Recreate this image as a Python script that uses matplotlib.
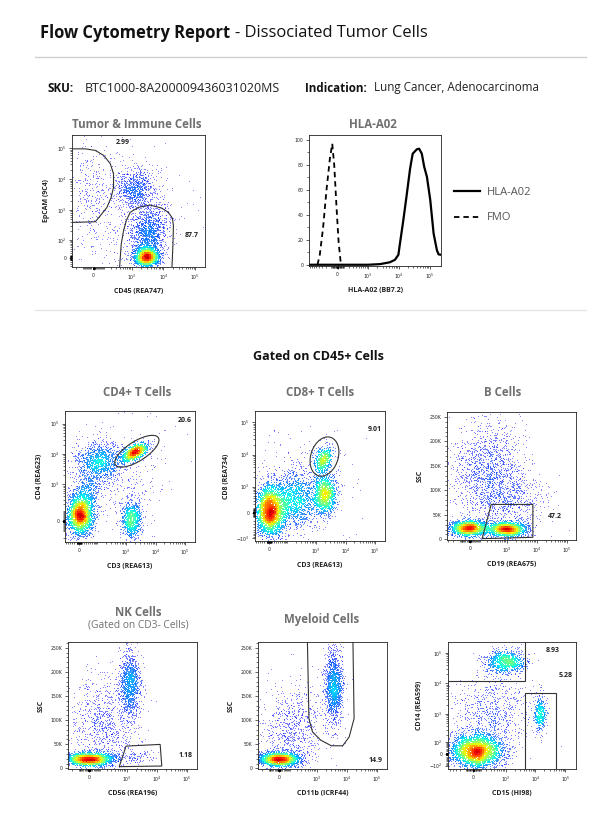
import numpy as np
import matplotlib
matplotlib.use('Agg')
import matplotlib.pyplot as plt
from matplotlib.patches import Polygon
from matplotlib.lines import Line2D
from matplotlib.colors import ListedColormap

W, H = 599, 817
FONT = 'Open Sans'

# ---------------- data ----------------
sku = 'BTC1000-8A200009436031020MS'
indication = 'Lung Cancer, Adenocarcinoma'

# histogram (HLA-A02 vs FMO), % of max
hla_x = [-880, 0, 1000, 2500, 5200, 7600, 9800, 11000, 14200, 18200, 23400, 28400,
         38500, 46000, 56000, 67000, 82000, 105000, 135000, 173000, 196000, 234000]
hla_y = [0, 0, 0, 0.5, 2, 4, 8, 17, 36, 56, 77, 89, 92.5, 93, 89, 78.5, 70.5, 52, 25, 11.5, 8.3, 8]
fmo_x = [-451, -371, -276, -196, -129, -87, -54, -16, 16, 53]
fmo_y = [0, 8, 30, 60, 85, 97, 80, 45, 18, 0]

# event populations: (x centre, y centre, x sd, y sd [axis fraction], correlation, events)
tumor_pops = [(3000, 3, 0.045, 0.035, 0.0, 2200),
              (3500, 160, 0.07, 0.11, 0.2, 1300),
              (1270, 4800, 0.075, 0.085, 0.0, 800),
              (800, 500, 0.2, 0.25, 0.0, 600),
              (-20, 3000, 0.07, 0.2, 0.0, 250)]
cd4_pops = [(5, 57, 0.05, 0.08, 0.0, 2600),
            (1560, 10, 0.04, 0.075, 0.0, 900),
            (2020, 11300, 0.05, 0.035, 0.55, 1200),
            (109, 5700, 0.09, 0.075, 0.0, 1100),
            (40, 640, 0.05, 0.08, 0.0, 400),
            (500, 2000, 0.2, 0.2, 0.0, 400)]
cd8_pops = [(5, 40, 0.06, 0.1, 0.0, 3000),
            (217, 362, 0.09, 0.11, 0.0, 1300),
            (2020, 565, 0.045, 0.08, 0.0, 1200),
            (1780, 7300, 0.035, 0.05, 0.3, 600),
            (300, 1000, 0.2, 0.2, 0.0, 350)]
b_pops = [(-5, 22400, 0.075, 0.03, 0.0, 2000),
          (1050, 20400, 0.075, 0.028, 0.0, 2000),
          (200, 140000, 0.14, 0.2, 0.0, 1500),
          (1500, 80000, 0.14, 0.12, 0.0, 600)]
nk_pops = [(0, 18600, 0.09, 0.025, 0.0, 3000),
           (1300, 175000, 0.04, 0.13, 0.0, 1200),
           (150, 90000, 0.13, 0.2, 0.0, 1000),
           (2000, 25000, 0.08, 0.03, 0.0, 100)]
my_pops = [(0, 18600, 0.08, 0.025, 0.0, 3000),
           (3700, 168700, 0.035, 0.14, 0.0, 1500),
           (150, 80000, 0.13, 0.18, 0.0, 900)]
cd14_pops = [(43, 20, 0.1, 0.065, 0.0, 3500),
             (1050, 50000, 0.08, 0.05, 0.0, 1000),
             (14700, 1000, 0.025, 0.07, 0.0, 420),
             (300, 1000, 0.15, 0.15, 0.0, 800)]

# gates (data units)
tumor_gate_x = [-400, -79, 15, 98, 189, 248, 248, 204, 139, 62, 15, -400]
tumor_gate_y = [96000, 96000, 85500, 58900, 31600, 14900, 5470, 2580, 1215, 650, 414, 390]
imm_gate_x = [388, 451, 538, 656, 881, 1620, 3790, 8860, 14300, 19200, 20700, 20000, 18300]
imm_gate_y = [-80, 67, 207, 445, 838, 1220, 1450, 1150, 838, 543, 305, 67, -80]
b_gate_x = [131, 298, 7500, 7500]
b_gate_y = [1360, 71300, 71300, 4080]
nk_gate_x = [559, 950, 12900, 14600]
nk_gate_y = [3440, 46100, 49600, 4800]
my_gate_x = [480, 547, 720, 1350, 3050, 7300, 12000, 17400, 15800]
my_gate_y = [280000, 103300, 75750, 58500, 46800, 46800, 65400, 103300, 280000]
mono_gate_x = [-900, 4400, 4400, -900]
mono_gate_y = [11900, 11900, 400000, 400000]
gran_gate_x = [4500, 4500, 49000, 49000]
gran_gate_y = [-300, 4700, 4700, -300]
# ellipse gates: centre x, centre y, semi axes (axis fraction), angle
cd4_ell = (2310, 12300, 0.195, 0.075, 32)
cd8_ell = (1920, 8700, 0.155, 0.105, 72)

# ---------------- helpers ----------------
jet = ListedColormap(plt.cm.jet(np.linspace(0.1, 0.93, 256)))
rng = np.random.default_rng(7)


def fwd(v, s):
    v = np.asarray(v, float)
    return s[1] * np.arcsinh(v / s[1]) if s[0] == 'asinh' else v


def inv(u, s):
    return s[1] * np.sinh(u / s[1]) if s[0] == 'asinh' else u


def to_frac(v, s):
    lo, hi = fwd(s[-2], s), fwd(s[-1], s)
    return (fwd(v, s) - lo) / (hi - lo)


def from_frac(f, s):
    lo, hi = fwd(s[-2], s), fwd(s[-1], s)
    return inv(lo + f * (hi - lo), s)


def box(l, t, r, b):
    return [l / W, 1 - b / H, (r - l) / W, (b - t) / H]


def sup(e):
    return r'$10^{%d}$' % e


def setup_axis(ax, which, s, labels):
    if s[0] == 'asinh':
        getattr(ax, 'set_%sscale' % which)('asinh', linear_width=s[1])
    getattr(ax, 'set_%slim' % which)(s[-2], s[-1])
    setf = getattr(ax, 'set_%sticks' % which)
    setf([p for p, _ in labels], [t for _, t in labels])
    if s[0] == 'asinh':
        minor = []
        for d in range(0, 5):
            for k in range(1, 10):
                for sg in (1, -1):
                    v = sg * k * 10 ** d
                    if s[-2] < v < s[-1]:
                        minor.append(v)
    else:
        minor = [v for v in np.arange(0, s[-1], 10000) if v > s[-2]]
    setf(minor, minor=True)


def style(ax):
    for sp in ax.spines.values():
        sp.set_linewidth(0.6)
        sp.set_color('#222222')
    ax.tick_params(which='major', length=2.5, width=0.5, labelsize=3.3, pad=1.5, colors='#222222')
    ax.tick_params(which='minor', length=1.3, width=0.4)


def dots(ax, pops, sx, sy):
    fx, fy = [], []
    for cx, cy, dx, dy, rho, n in pops:
        z = rng.standard_normal((n, 2))
        fx.append(to_frac(cx, sx) + dx * z[:, 0])
        fy.append(to_frac(cy, sy) + dy * (rho * z[:, 0] + np.sqrt(1 - rho ** 2) * z[:, 1]))
    fx = np.concatenate(fx)
    fy = np.concatenate(fy)
    keep = (fx > 0.003) & (fx < 0.997) & (fy > 0.003) & (fy < 0.997)
    fx, fy = fx[keep], fy[keep]
    nb = 64
    h, _, _ = np.histogram2d(fx, fy, bins=nb, range=[[0, 1], [0, 1]])
    k = np.array([1, 2, 3, 2, 1.]) / 9
    h = np.apply_along_axis(lambda r: np.convolve(r, k, 'same'), 0, h)
    h = np.apply_along_axis(lambda r: np.convolve(r, k, 'same'), 1, h)
    c = h[np.clip((fx * nb).astype(int), 0, nb - 1), np.clip((fy * nb).astype(int), 0, nb - 1)]
    v = (c / c.max()) ** 0.9
    o = np.argsort(v)
    cols = jet(v[o])
    cols[:, 3] = 0.45 + 0.55 * np.clip(v[o] * 3, 0, 1)
    ax.scatter(from_frac(fx[o], sx), from_frac(fy[o], sy), c=cols,
               s=0.45, marker='s', linewidths=0, rasterized=True)


def gate(ax, xs, ys):
    ax.add_patch(Polygon(np.column_stack([xs, ys]), closed=True, fill=False,
                         edgecolor='#333333', lw=0.8, zorder=5))


def ellipse(ax, e, sx, sy):
    cx, cy, a, b, ang = e
    t = np.linspace(0, 2 * np.pi, 120)
    th = np.deg2rad(ang)
    px = to_frac(cx, sx) + a * np.cos(t) * np.cos(th) - b * np.sin(t) * np.sin(th)
    py = to_frac(cy, sy) + a * np.cos(t) * np.sin(th) + b * np.sin(t) * np.cos(th)
    gate(ax, from_frac(px, sx), from_frac(py, sy))


def pct(ax, fx, fy, t):
    ax.text(fx, fy, t, transform=ax.transAxes, ha='center', va='center',
            fontsize=5, fontweight='bold', color='#222222', family=FONT, zorder=6)


def title(x, y, t, size=8.3, weight='bold'):
    fig.text(x / W, 1 - y / H, t, ha='center', va='center', fontsize=size,
             fontweight=weight, color='#707070', family=FONT)


def labels(ax, xl, yl):
    ax.set_xlabel(xl, fontsize=5.0, fontweight='bold', family=FONT, labelpad=4.5, color='#222222')
    if yl:
        ax.set_ylabel(yl, fontsize=5.0, fontweight='bold', family=FONT, labelpad=4.5, color='#222222')


log_ticks = [(0, '0'), (1e3, sup(3)), (1e4, sup(4)), (1e5, sup(5))]
ssc_ticks = [(0, '0'), (50000, '50K'), (100000, '100K'), (150000, '150K'),
             (200000, '200K'), (250000, '250K')]

fig = plt.figure(figsize=(W / 100, H / 100), dpi=100)

# ---------------- header ----------------
r = fig.canvas.get_renderer()


def run_text(x, y, parts, gap):
    for t, wgt, size, col in parts:
        tx = fig.text(x / W, 1 - y / H, t, fontsize=size, fontweight=wgt, color=col,
                      family=FONT, va='center', ha='left')
        bb = tx.get_window_extent(renderer=r)
        x += bb.width + gap


run_text(40, 33, [('Flow Cytometry Report', 'bold', 11.9, '#111111'),
                  ('- Dissociated Tumor Cells', 'normal', 11.9, '#111111')], 5)
run_text(48, 88, [('SKU:', 'bold', 8.4, '#111111'), (sku, 'normal', 9.0, '#222222')], 11)
run_text(305, 88, [('Indication:', 'bold', 8.4, '#111111'), (indication, 'normal', 8.4, '#222222')], 7)
fig.add_artist(Line2D([35 / W, 586 / W], [1 - 57 / H] * 2, color='#cfcfcf', lw=1.0))
fig.add_artist(Line2D([35 / W, 586 / W], [1 - 310 / H] * 2, color='#e4e4e4', lw=0.9))
fig.text(318 / W, 1 - 357 / H, 'Gated on CD45+ Cells', ha='center', va='center',
         fontsize=9, fontweight='bold', color='#111111', family=FONT)

# ---------------- tumor & immune ----------------
sx = ('asinh', 123, -285, 2.07e5)
sy = ('asinh', 57, -43, 2.7e5)
ax = fig.add_axes(box(72, 135, 205, 267))
setup_axis(ax, 'x', sx, log_ticks)
setup_axis(ax, 'y', sy, [(0, '0'), (1e2, sup(2)), (1e3, sup(3)), (1e4, sup(4)), (1e5, sup(5))])
dots(ax, tumor_pops, sx, sy)
gate(ax, tumor_gate_x, tumor_gate_y)
gate(ax, imm_gate_x, imm_gate_y)
pct(ax, 0.38, 0.94, '2.99')
pct(ax, 0.90, 0.24, '87.7')
labels(ax, 'CD45 (REA747)', 'EpCAM (9C4)')
style(ax)
title(137, 125, 'Tumor & Immune Cells')

# ---------------- HLA-A02 histogram ----------------
sx = ('asinh', 212, -880, 2.34e5)
ax = fig.add_axes(box(309, 135, 441, 266))
setup_axis(ax, 'x', sx, log_ticks)
ax.set_ylim(-1, 104)
ax.set_yticks([0, 20, 40, 60, 80, 100])
ax.set_yticks(range(10, 100, 20), minor=True)
h1, = ax.plot(hla_x, hla_y, color='black', lw=1.6, label='HLA-A02')
h2, = ax.plot(fmo_x, fmo_y, color='black', lw=1.3, ls=(0, (3, 2.2)), label='FMO')
labels(ax, 'HLA-A02 (BB7.2)', None)
style(ax)
title(373, 125, 'HLA-A02')
fig.legend([h1, h2], ['HLA-A02', 'FMO'], loc='upper left', bbox_to_anchor=(444 / W, 1 - 177 / H),
           frameon=False, prop={'family': FONT, 'size': 8}, labelcolor='#555555',
           handlelength=2.3, labelspacing=1.3, handletextpad=0.7)

# ---------------- CD4 ----------------
sx = ('asinh', 50, -67, 2.2e5)
sy = ('asinh', 120, -282, 2.64e5)
ax = fig.add_axes(box(65, 411, 195, 542))
setup_axis(ax, 'x', sx, log_ticks)
setup_axis(ax, 'y', sy, log_ticks)
dots(ax, cd4_pops, sx, sy)
ellipse(ax, cd4_ell, sx, sy)
pct(ax, 0.92, 0.93, '20.6')
labels(ax, 'CD3 (REA613)', 'CD4 (REA623)')
style(ax)
title(137, 392, 'CD4+ T Cells')

# ---------------- CD8 ----------------
sy = ('asinh', 329, -1217, 2.2e5)
ax = fig.add_axes(box(255, 411, 385, 541))
setup_axis(ax, 'x', sx, log_ticks)
setup_axis(ax, 'y', sy, [(-1e3, r'$-10^{3}$')] + log_ticks)
dots(ax, cd8_pops, sx, sy)
ellipse(ax, cd8_ell, sx, sy)
pct(ax, 0.92, 0.86, '9.01')
labels(ax, 'CD3 (REA613)', 'CD8 (REA734)')
style(ax)
title(320, 392, 'CD8+ T Cells')

# ---------------- B cells ----------------
sx = ('asinh', 120, -331, 2.03e5)
sy = ('lin', -1400, 2.6e5)
ax = fig.add_axes(box(447, 412, 576, 540))
setup_axis(ax, 'x', sx, log_ticks)
setup_axis(ax, 'y', sy, ssc_ticks)
dots(ax, b_pops, sx, sy)
gate(ax, b_gate_x, b_gate_y)
pct(ax, 0.84, 0.18, '47.2')
labels(ax, 'CD19 (REA675)', 'SSC')
style(ax)
title(503, 392, 'B Cells')

# ---------------- NK cells ----------------
sx = ('asinh', 113, -271, 2.15e5)
sy = ('lin', -1400, 2.62e5)
ax = fig.add_axes(box(68, 642, 197, 769))
setup_axis(ax, 'x', sx, log_ticks)
setup_axis(ax, 'y', sy, ssc_ticks)
dots(ax, nk_pops, sx, sy)
gate(ax, nk_gate_x, nk_gate_y)
pct(ax, 0.91, 0.11, '1.18')
labels(ax, 'CD56 (REA196)', 'SSC')
style(ax)
title(138, 613, 'NK Cells')
title(138, 625, '(Gated on CD3- Cells)', size=7.4, weight='normal')

# ---------------- myeloid ----------------
ax = fig.add_axes(box(258, 642, 387, 769))
setup_axis(ax, 'x', sx, log_ticks)
setup_axis(ax, 'y', sy, ssc_ticks)
dots(ax, my_pops, sx, sy)
gate(ax, my_gate_x, my_gate_y)
pct(ax, 0.91, 0.07, '14.9')
labels(ax, 'CD11b (ICRF44)', 'SSC')
style(ax)
title(322, 619, 'Myeloid Cells')

# ---------------- CD14 / CD15 ----------------
sx = ('asinh', 169, -580, 2.25e5)
sy = ('asinh', 100, -140, 2.25e5)
ax = fig.add_axes(box(448, 642, 576, 769))
setup_axis(ax, 'x', sx, log_ticks)
setup_axis(ax, 'y', sy, [(-1e2, r'$-10^{2}$'), (0, '0'), (1e2, sup(2)), (1e3, sup(3)),
                         (1e4, sup(4)), (1e5, sup(5))])
dots(ax, cd14_pops, sx, sy)
gate(ax, mono_gate_x, mono_gate_y)
gate(ax, gran_gate_x, gran_gate_y)
pct(ax, 0.82, 0.935, '8.93')
pct(ax, 0.92, 0.74, '5.28')
labels(ax, 'CD15 (HI98)', 'CD14 (REA599)')
style(ax)

fig.savefig('out.png', dpi=100)
